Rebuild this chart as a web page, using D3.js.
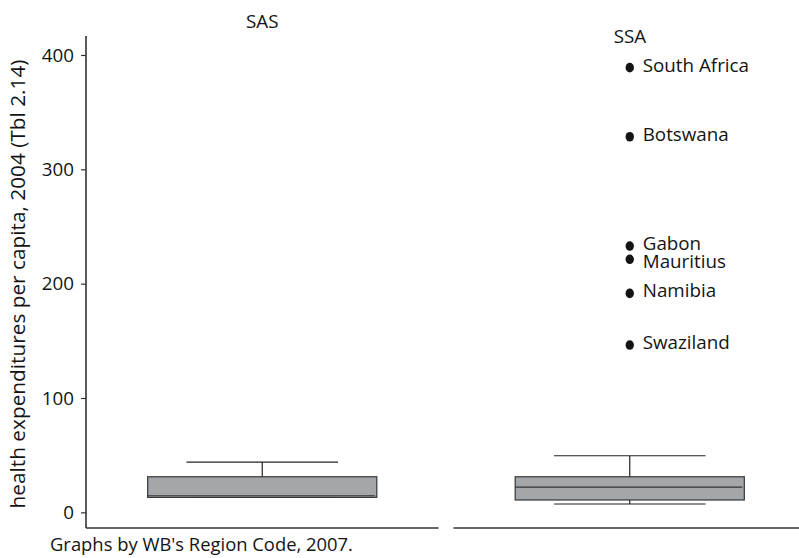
<!DOCTYPE html>
<html>
<head>
<meta charset="utf-8">
<script src="https://cdn.jsdelivr.net/npm/d3@7"></script>
<style>
  html, body { margin: 0; padding: 0; background: #fff; }
  svg { display: block; }
  text { font-family: "Open Sans", sans-serif; fill: #141414; }
</style>
</head>
<body>
<svg id="chart" width="799" height="558"></svg>
<script>
// ---- data ----
const regions = ["SAS", "SSA"];
const q1 = [13.1, 10.8];
const medians = [14.5, 22.1];
const q3 = [31.1, 31.1];
const lowerWhisker = [13.1, 7.3];
const upperWhisker = [44, 49.5];

const outlierNames = ["South Africa", "Botswana", "Gabon", "Mauritius", "Namibia", "Swaziland"];
const outlierValues = [388.9, 328.5, 232.9, 221.3, 191.5, 146.3];
const outlierRegion = ["SSA", "SSA", "SSA", "SSA", "SSA", "SSA"];

const yTicks = [0, 100, 200, 300, 400];
const yLabel = "health expenditures per capita, 2004 (Tbl 2.14)";
const note = "Graphs by WB's Region Code, 2007.";

// ---- layout ----
const svg = d3.select("#chart");
const fs = 18.8;
const fsY = 20.8;

const y = d3.scaleLinear().domain([-13.7, 416.6]).range([528, 36]);
const x = d3.scaleBand().domain(regions).range([86, 806]).paddingInner(0.0408);
const bw = x.bandwidth();
const boxW = bw * 0.65;
const capW = bw * 0.43;

// panels: x-axis baselines
regions.forEach(r => {
  svg.append("line")
    .attr("x1", x(r)).attr("x2", x(r) + bw)
    .attr("y1", y.range()[0]).attr("y2", y.range()[0])
    .attr("stroke", "#333").attr("stroke-width", 1.6);
});

// y axis on first panel
const yAxis = d3.axisLeft(y).tickValues(yTicks).tickSize(5).tickPadding(7).tickSizeOuter(0);
const gy = svg.append("g").attr("transform", `translate(${x(regions[0])},0)`).call(yAxis);
gy.select(".domain").attr("stroke", "#333").attr("stroke-width", 1.6)
  .attr("d", `M0,${y.range()[1]}V${y.range()[0]}`);
gy.selectAll(".tick line").attr("stroke", "#333").attr("stroke-width", 1.2);
gy.selectAll(".tick text").style("font-size", fs + "px").style("font-family", "'Open Sans', sans-serif").attr("fill", "#141414");

// panel titles
svg.append("text").attr("x", x("SAS") + bw / 2).attr("y", 28)
  .attr("text-anchor", "middle").style("font-size", fs + "px").text("SAS");
svg.append("text").attr("x", x("SSA") + bw / 2 - 16).attr("y", 43)
  .attr("text-anchor", "start").style("font-size", fs + "px").text("SSA");

// boxes
regions.forEach((r, i) => {
  const cx = x(r) + bw / 2;
  const g = svg.append("g");
  g.append("line").attr("x1", cx).attr("x2", cx)
    .attr("y1", y(q3[i])).attr("y2", y(upperWhisker[i]))
    .attr("stroke", "#222").attr("stroke-width", 1.2);
  g.append("line").attr("x1", cx - capW / 2).attr("x2", cx + capW / 2)
    .attr("y1", y(upperWhisker[i])).attr("y2", y(upperWhisker[i]))
    .attr("stroke", "#222").attr("stroke-width", 1.2);
  g.append("line").attr("x1", cx).attr("x2", cx)
    .attr("y1", y(q1[i])).attr("y2", y(lowerWhisker[i]))
    .attr("stroke", "#222").attr("stroke-width", 1.2);
  g.append("line").attr("x1", cx - capW / 2).attr("x2", cx + capW / 2)
    .attr("y1", y(lowerWhisker[i])).attr("y2", y(lowerWhisker[i]))
    .attr("stroke", "#222").attr("stroke-width", 1.2);
  g.append("rect").attr("x", cx - boxW / 2).attr("width", boxW)
    .attr("y", y(q3[i])).attr("height", y(q1[i]) - y(q3[i]))
    .attr("fill", "#a4a7aa").attr("stroke", "#333").attr("stroke-width", 1.2);
  g.append("line").attr("x1", cx - boxW / 2).attr("x2", cx + boxW / 2 - 2)
    .attr("y1", y(medians[i])).attr("y2", y(medians[i]))
    .attr("stroke", "#333").attr("stroke-width", 1.2);
});

// outliers (labels to the right; nudge apart labels that would collide)
const order = d3.range(outlierNames.length).sort((a, b) => y(outlierValues[a]) - y(outlierValues[b]));
const labelY = {};
let prev = -Infinity;
order.forEach(i => {
  let ly = y(outlierValues[i]) + 4;
  const minGap = fs * 0.95;
  if (ly - prev < minGap) ly = prev + minGap;
  labelY[i] = ly;
  prev = ly;
});
outlierNames.forEach((n, i) => {
  const cx = x(outlierRegion[i]) + bw / 2;
  svg.append("ellipse").attr("cx", cx).attr("cy", y(outlierValues[i]))
    .attr("rx", 4.2).attr("ry", 4.8).attr("fill", "#141414");
  svg.append("text").attr("x", cx + 13).attr("y", labelY[i])
    .style("font-size", fs + "px").text(n);
});

// y label
svg.append("text")
  .attr("transform", `translate(25,284) rotate(-90)`)
  .attr("text-anchor", "middle").style("font-size", fsY + "px").text(yLabel);

// note
svg.append("text").attr("x", 50).attr("y", 551).style("font-size", "18.4px").text(note);
</script>
</body>
</html>
